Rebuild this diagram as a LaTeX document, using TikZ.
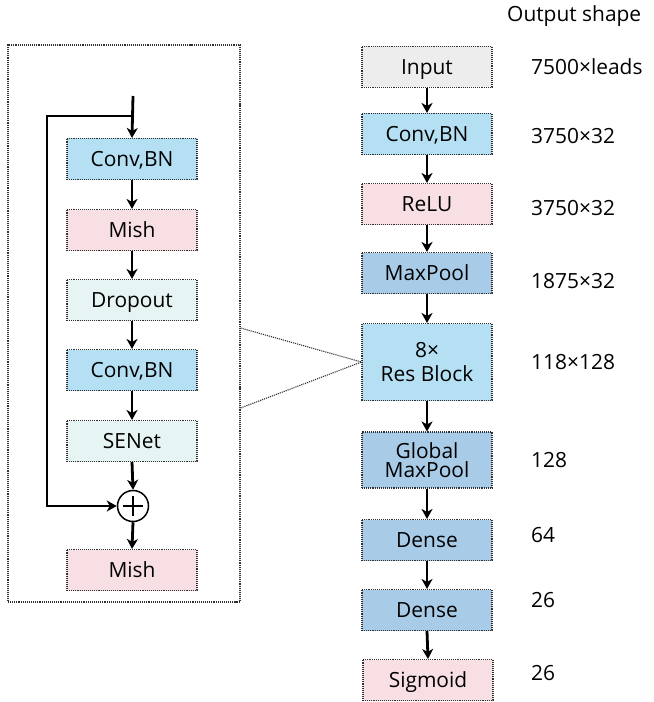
\documentclass[tikz,border=0pt]{standalone}
\usepackage{fontspec}
\setmainfont{Open Sans}
\usetikzlibrary{arrows.meta}
\definecolor{cgray}{HTML}{EDEDED}
\definecolor{cblue}{HTML}{B5E0F4}
\definecolor{cpink}{HTML}{F7DFE3}
\definecolor{cdblue}{HTML}{A8CBE7}
\definecolor{cteal}{HTML}{E7F4F4}
\definecolor{cborder}{HTML}{303030}
\tikzset{
  blk/.style={draw=cborder, densely dotted, line width=1.1bp, minimum width=130bp, minimum height=41bp, inner sep=0pt, font=\fontsize{21}{22}\selectfont, align=center},
  one/.style={blk, text height=17bp, text depth=2bp},
  arr/.style={-{Stealth[length=10bp,width=11bp,inset=3bp]}, line width=2.8bp, solid},
  lbl/.style={anchor=west, font=\fontsize{21}{22}\selectfont, inner sep=0pt},
  link/.style={draw=cborder, densely dotted, line width=1.1bp}
}
\begin{document}
\begin{tikzpicture}[x=1bp,y=-1bp]
\useasboundingbox (0,0) rectangle (654,702);
% right column
\node[one, fill=cgray] (in) at (427,67) {Input};
\node[one, fill=cblue] (c1) at (427,134) {Conv,BN};
\node[one, fill=cpink] (relu) at (427,204) {ReLU};
\node[one, fill=cdblue] (mp) at (427,273) {MaxPool};
\node[blk, fill=cblue, minimum height=77bp, font=\fontsize{21}{24}\selectfont] (res) at (427,362) {8\texttimes\\Res Block};
\node[blk, fill=cdblue, minimum height=56bp, font=\fontsize{21}{19}\selectfont] (gmp) at (427,460) {Global\\MaxPool};
\node[one, fill=cdblue] (d1) at (427,540) {Dense};
\node[one, fill=cdblue] (d2) at (427,610) {Dense};
\node[one, fill=cpink] (sig) at (428,680) {Sigmoid};
\foreach \a/\b in {in/c1,c1/relu,relu/mp,mp/res,res/gmp,gmp/d1,d1/d2,d2/sig}
  \draw[arr] (\a.south) -- (\b.north);
% labels
\node[lbl] (h) at (507,16) {Output shape};
\node[lbl] (l1) at (531,67) {7500\texttimes leads};
\node[lbl] (l2) at (531,136) {3750\texttimes 32};
\node[lbl] (l3) at (531,208) {3750\texttimes 32};
\node[lbl] (l4) at (531,281) {1875\texttimes 32};
\node[lbl] (l5) at (531,362) {118\texttimes 128};
\node[lbl] (l6) at (531,460) {128};
\node[lbl] (l7) at (531,535) {64};
\node[lbl] (l8) at (531,600) {26};
\node[lbl] (l9) at (531,673) {26};
% left frame
\node[draw=cborder, densely dotted, line width=1.1bp, minimum width=232bp, minimum height=557bp, inner sep=0pt] (frame) at (124,323.5) {};
\node[one, fill=cblue] (lc1) at (132,159) {Conv,BN};
\node[one, fill=cpink] (lm1) at (132,230) {Mish};
\node[one, fill=cteal] (ld) at (132,300) {Dropout};
\node[one, fill=cblue] (lc2) at (132,370) {Conv,BN};
\node[one, fill=cteal] (lse) at (132,441) {SENet};
\node[circle, draw, line width=1.5bp, minimum size=31bp, inner sep=0pt] (plus) at (133,506) {};
\draw[line width=2.4bp] ([yshift=-10bp]plus.center) -- ([yshift=10bp]plus.center) ([xshift=-10bp]plus.center) -- ([xshift=10bp]plus.center);
\node[one, fill=cpink] (lm2) at (132,570) {Mish};
\coordinate (top) at (133,96);
\coordinate (br) at (133,116);
\draw[arr] (top) -- (lc1.north);
\draw[arr] (lc1.south) -- (lm1.north);
\draw[arr] (lm1.south) -- (ld.north);
\draw[arr] (ld.south) -- (lc2.north);
\draw[arr] (lc2.south) -- (lse.north);
\draw[arr] (lse.south) -- (plus.north);
\draw[arr] (plus.south) -- (lm2.north);
\draw[arr] (br) -- (47,116) -- (47,506) -- (plus.west);
% zoom links
\draw[link] (frame.east |- 0,328) -- (res.west);
\draw[link] (frame.east |- 0,408) -- (res.west);
\end{tikzpicture}
\end{document}
